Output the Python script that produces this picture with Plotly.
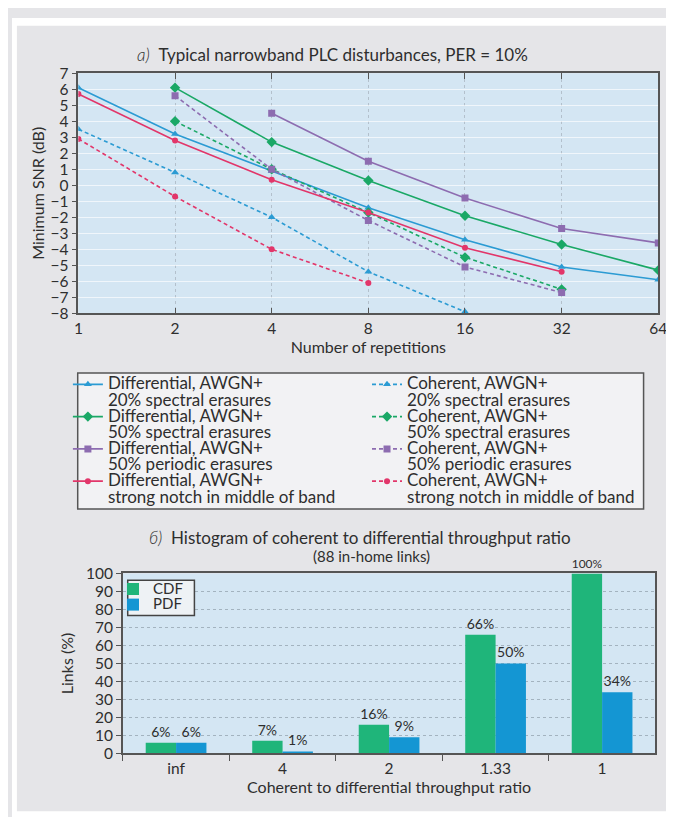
import plotly.graph_objects as go

W, H = 674, 817

# ---------------- data: panel a) ----------------
reps = [1, 2, 4, 8, 16, 32, 64]
rep_labels = ["1", "2", "4", "8", "16", "32", "64"]

diff_20_spec = [6.1, 3.2, 0.9, -1.4, -3.4, -5.1, -5.9]
diff_50_spec = [None, 6.1, 2.7, 0.3, -1.9, -3.7, -5.3]
diff_50_per = [None, None, 4.5, 1.5, -0.8, -2.7, -3.6]
diff_notch = [5.7, 2.8, 0.35, -1.7, -3.9, -5.4, None]

coh_20_spec = [3.5, 0.8, -2.0, -5.4, -7.9, None, None]
coh_50_spec = [None, 4.0, 1.0, -1.7, -4.5, -6.5, None]
coh_50_per = [None, 5.6, 1.0, -2.2, -5.1, -6.7, None]
coh_notch = [2.9, -0.7, -4.0, -6.1, None, None, None]

case_lines = ["20% spectral erasures", "50% spectral erasures",
              "50% periodic erasures", "strong notch in middle of band"]

# ---------------- data: panel b) ----------------
ratio_cats = ["inf", "4", "2", "1.33", "1"]
cdf_vals = [6, 7, 16, 66, 100]
pdf_vals = [6, 1, 9, 50, 34]

# ---------------- style ----------------
FONT = "Lato"
TXT = "#2e2e2e"
PANEL = "#e5e5e8"
PLOTBG = "#d4e6f3"
AXC = "#555555"
BLUE = "#2b9bd3"
GREEN = "#1aa866"
PURPLE = "#8d6cb0"
RED = "#e2366a"
CDF_C = "#1fb57a"
PDF_C = "#1496d3"


def px_x(p):
    return p / W


def px_y(p):
    return 1 - p / H


def two_line(l1, l2, size=17):
    return (f'<span style="font-size:{size}px">{l1}</span><br>'
            f'<span style="font-size:{size}px">{l2}</span>')


fig = go.Figure()

series = [
    (diff_20_spec, coh_20_spec, BLUE, "triangle-up", 7),
    (diff_50_spec, coh_50_spec, GREEN, "diamond", 8),
    (diff_50_per, coh_50_per, PURPLE, "square", 7),
    (diff_notch, coh_notch, RED, "circle", 6),
]

leg_layout = {}
for i, (dv, cv, col, sym, ms) in enumerate(series):
    ldiff = "legend" if i == 0 else f"legend{2 * i + 1}"
    lcoh = f"legend{2 * i + 2}"
    fig.add_trace(go.Scatter(
        x=reps, y=dv, mode="lines+markers", connectgaps=False,
        line=dict(color=col, width=1.6),
        marker=dict(symbol=sym, size=ms, color=col),
        name=two_line("Differential, AWGN+", case_lines[i]),
        legend=ldiff, showlegend=True, xaxis="x", yaxis="y"))
    fig.add_trace(go.Scatter(
        x=reps, y=cv, mode="lines+markers", connectgaps=False,
        line=dict(color=col, width=1.6, dash="4px,3px"),
        marker=dict(symbol=sym, size=ms, color=col),
        name=two_line("Coherent, AWGN+", case_lines[i]),
        legend=lcoh, showlegend=True, xaxis="x", yaxis="y"))
    top = 359.5 + 33 * i
    common = dict(bgcolor="rgba(0,0,0,0)", borderwidth=0, valign="top",
                  font=dict(family=FONT, size=12.7, color=TXT),
                  xanchor="left", yanchor="top", y=px_y(top))
    leg_layout[ldiff] = dict(common, x=px_x(57))
    leg_layout[lcoh] = dict(common, x=px_x(362))

# ---------------- panel b) bars ----------------
fig.add_trace(go.Bar(
    x=ratio_cats, y=cdf_vals, name='<span style="font-size:15px">CDF</span>',
    marker=dict(color=CDF_C, line=dict(width=0)),
    text=[f"{v}%" for v in cdf_vals], textposition="outside",
    textfont=dict(family=FONT, size=14, color=TXT), cliponaxis=False,
    legend="legend9", showlegend=True, xaxis="x2", yaxis="y2"))
fig.add_trace(go.Bar(
    x=ratio_cats, y=pdf_vals, name='<span style="font-size:15px">PDF</span>',
    marker=dict(color=PDF_C, line=dict(width=0)),
    text=[f"{v}%" for v in pdf_vals], textposition="outside",
    textfont=dict(family=FONT, size=14, color=TXT), cliponaxis=False,
    legend="legend10", showlegend=True, xaxis="x2", yaxis="y2"))

bleg = dict(bgcolor="rgba(0,0,0,0)", borderwidth=0,
            font=dict(family=FONT, size=12, color=TXT),
            xanchor="left", yanchor="top", x=px_x(103))
leg_layout["legend9"] = dict(bleg, y=px_y(569))
leg_layout["legend10"] = dict(bleg, y=px_y(585))

tickfont = dict(family=FONT, size=15.5, color=TXT)
titlefont = dict(family=FONT, size=16, color=TXT)

fig.update_layout(
    width=W, height=H, autosize=False,
    margin=dict(l=0, r=0, t=0, b=0),
    paper_bgcolor=PANEL, plot_bgcolor=PLOTBG,
    font=dict(family=FONT, color=TXT),
    showlegend=True,
    barmode="group", bargap=0.43, bargroupgap=0,
    xaxis=dict(
        type="log", domain=[px_x(67.7), px_x(659)], anchor="y",
        range=[0, 1.80618], tickvals=reps, ticktext=rep_labels,
        showline=True, linecolor=AXC, linewidth=1.5, mirror="allticks",
        ticks="inside", ticklen=6, tickcolor=AXC, tickfont=tickfont,
        showgrid=True, gridcolor="#b3c0cc", griddash="dot", gridwidth=1,
        zeroline=False,
        title=dict(text="Number of repetitions", font=titlefont, standoff=0)),
    yaxis=dict(
        domain=[px_y(302), px_y(56.5)], anchor="x", range=[-8, 7], dtick=1,
        showline=True, linecolor=AXC, linewidth=1.5, mirror=True,
        ticks="outside", ticklen=5, tickcolor=AXC, tickfont=tickfont,
        showgrid=True, gridcolor="rgba(255,255,255,0.65)", gridwidth=1,
        zeroline=False,
        title=dict(text="Minimum SNR (dB)", font=titlefont, standoff=2)),
    yaxis3=dict(
        overlaying="y", side="right", anchor="x", range=[-8, 7], dtick=1,
        ticks="inside", ticklen=5, tickcolor=AXC, showticklabels=False,
        showgrid=False, zeroline=False, showline=False),
    xaxis2=dict(
        type="category", domain=[px_x(113), px_x(656)], anchor="y2",
        showline=True, linecolor=AXC, linewidth=1.5, mirror=True,
        ticks="outside", tickson="boundaries", ticklen=6, tickcolor=AXC,
        tickfont=tickfont, showgrid=False, zeroline=False,
        title=dict(text="Coherent to differential throughput ratio",
                   font=titlefont, standoff=2)),
    yaxis2=dict(
        domain=[px_y(752), px_y(568)], anchor="x2", range=[0, 100], dtick=10,
        showline=True, linecolor=AXC, linewidth=1.5, mirror=True,
        ticks="outside", ticklen=5, tickcolor=AXC, tickfont=tickfont,
        showgrid=True, gridcolor="#a3b3bf", griddash="dot", gridwidth=1,
        zeroline=False,
        title=dict(text="Links (%)", font=titlefont, standoff=8)),
    yaxis4=dict(
        overlaying="y2", side="right", anchor="x2", range=[0, 100], dtick=10,
        ticks="inside", ticklen=5, tickcolor=AXC, showticklabels=False,
        showgrid=False, zeroline=False, showline=False),
    **leg_layout,
)

shapes = [
    # white outer margins around the grey panel
    dict(type="rect", xref="paper", yref="paper", x0=0, x1=px_x(5), y0=0, y1=1,
         fillcolor="white", line=dict(width=0), layer="below"),
    dict(type="rect", xref="paper", yref="paper", x0=px_x(669), x1=1, y0=0, y1=1,
         fillcolor="white", line=dict(width=0), layer="below"),
    dict(type="rect", xref="paper", yref="paper", x0=0, x1=1, y0=px_y(8), y1=1,
         fillcolor="white", line=dict(width=0), layer="below"),
    dict(type="rect", xref="paper", yref="paper", x0=0, x1=1, y0=0, y1=px_y(811),
         fillcolor="white", line=dict(width=0), layer="below"),
    # legend boxes
    dict(type="rect", xref="paper", yref="paper", x0=px_x(67), x1=px_x(644),
         y0=px_y(502), y1=px_y(363), fillcolor="#f2f2f4",
         line=dict(color=AXC, width=1.5), layer="above"),
    dict(type="rect", xref="paper", yref="paper", x0=px_x(118), x1=px_x(186),
         y0=px_y(611), y1=px_y(575), fillcolor="#eef2f5",
         line=dict(color="#444444", width=1.5), layer="above"),
]
fig.update_layout(shapes=shapes)

annotations = [
    dict(text='<i style="font-weight:300">а)</i>  Typical narrowband PLC disturbances, PER = 10%',
         x=px_x(125), y=px_y(37), xref="paper", yref="paper",
         xanchor="left", yanchor="middle", showarrow=False,
         font=dict(family=FONT, size=17, color=TXT)),
    dict(text='<i style="font-weight:300">б)</i>  Histogram of coherent to differential throughput ratio',
         x=px_x(138), y=px_y(531), xref="paper", yref="paper",
         xanchor="left", yanchor="middle", showarrow=False,
         font=dict(family=FONT, size=17, color=TXT)),
    dict(text="(88 in-home links)",
         x=px_x(367), y=px_y(550), xref="paper", yref="paper",
         xanchor="center", yanchor="middle", showarrow=False,
         font=dict(family=FONT, size=15, color=TXT)),
]
fig.update_layout(annotations=annotations)

fig.write_html("out.html")
